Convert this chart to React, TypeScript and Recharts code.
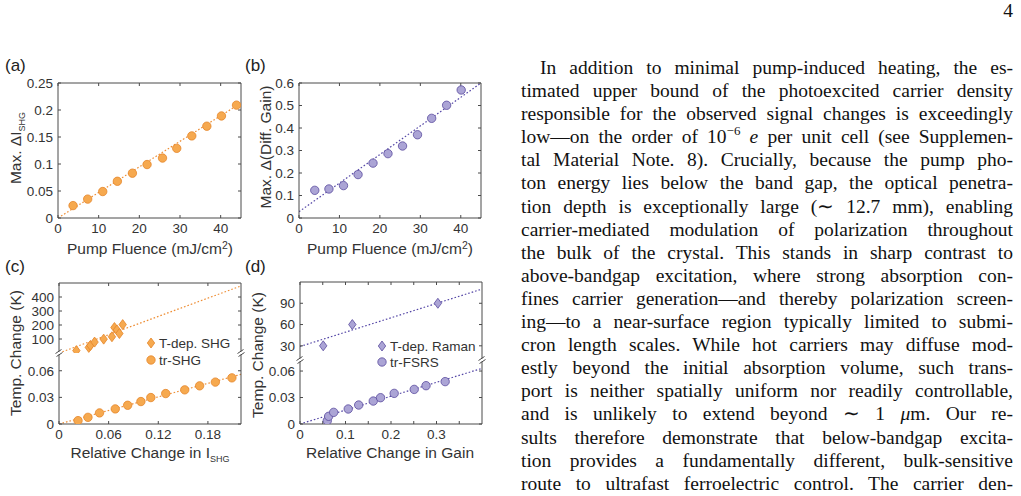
import React from "react";
import { ScatterChart, Scatter, XAxis, YAxis, ReferenceLine } from "recharts";

// (a) max. change of SHG intensity vs pump fluence
const fluenceA = [3.7, 7.3, 11.0, 14.6, 18.3, 21.9, 25.7, 29.2, 32.9, 36.6, 40.2, 43.9];
const maxDeltaShg = [0.023, 0.035, 0.049, 0.068, 0.083, 0.099, 0.111, 0.129, 0.152, 0.17, 0.189, 0.209];
const fitAx = [0, 45];
const fitAy = [0, 0.213];

// (b) max. change of differential Raman gain vs pump fluence
const fluenceB = [3.9, 7.4, 11.0, 14.6, 18.3, 22.0, 25.6, 29.3, 32.8, 36.5, 40.1];
const maxDeltaGain = [0.123, 0.129, 0.144, 0.193, 0.244, 0.286, 0.32, 0.37, 0.443, 0.501, 0.569];
const fitBx = [0, 45];
const fitBy = [0.028, 0.6];

// (c) temperature calibration, SHG
const relShgTdep = [0.021, 0.036, 0.038, 0.043, 0.054, 0.064, 0.067, 0.07, 0.073, 0.077];
const tempShgTdep = [17, 40, 54, 78, 99, 116, 182, 165, 139, 203];
const fitCupX = [0, 0.22];
const fitCupY = [0, 479];
const relShgTr = [0.023, 0.035, 0.049, 0.068, 0.083, 0.099, 0.111, 0.129, 0.152, 0.17, 0.189, 0.209];
const tempShgTr = [0.0038, 0.0075, 0.0125, 0.017, 0.0211, 0.0253, 0.0298, 0.0343, 0.0385, 0.043, 0.0472, 0.052];
const fitClowX = [0, 0.22];
const fitClowY = [0, 0.056];

// (d) temperature calibration, Raman gain
const relGainTdep = [0.051, 0.115, 0.303];
const tempGainTdep = [30, 60, 90];
const fitDupX = [0, 0.4];
const fitDupY = [29, 110];
const relGainTr = [0.06, 0.063, 0.074, 0.106, 0.129, 0.161, 0.177, 0.207, 0.251, 0.277, 0.319];
const tempGainTr = [0.0038, 0.0087, 0.0132, 0.017, 0.0215, 0.026, 0.0298, 0.0347, 0.0392, 0.0434, 0.048];
const fitDlowX = [0, 0.4];
const fitDlowY = [0, 0.063];

const ticksA = [0, 10, 20, 30, 40];
const ticksAy = [0, 0.05, 0.1, 0.15, 0.2, 0.25];
const ticksBy = [0, 0.1, 0.2, 0.3, 0.4, 0.5, 0.6];
const ticksCx = [0, 0.06, 0.12, 0.18];
const ticksCup = [100, 200, 300, 400];
const ticksLow = [0, 0.03, 0.06];
const ticksDx = [0, 0.05, 0.1, 0.15, 0.2, 0.25, 0.3, 0.35];
const ticksDup = [30, 60, 90];

const SANS = "'Liberation Sans', Arial, Helvetica, sans-serif";
const SERIF = "'Liberation Serif', 'Times New Roman', serif";
const INK = "#333";
const AXIS = "#4a4a4a";
const OR_FILL = "#f6a94f";
const OR_EDGE = "#e4852a";
const OR_LINE = "#ee8e35";
const PU_FILL = "#aba4d5";
const PU_EDGE = "#5a4b9e";
const PU_LINE = "#5446a6";

type Pt = { x: number; y: number };
const zip = (xs: number[], ys: number[]): Pt[] => xs.map((x, i) => ({ x, y: ys[i] }));

const dot = (fill: string, edge: string) => (p: any) => (
  <circle cx={p.cx} cy={p.cy} r={4.2} fill={fill} stroke={edge} strokeWidth={0.8} />
);
const diamond = (fill: string, edge: string) => (p: any) => (
  <path
    d={`M${p.cx},${p.cy - 5}L${p.cx + 3.7},${p.cy}L${p.cx},${p.cy + 5}L${p.cx - 3.7},${p.cy}Z`}
    fill={fill}
    stroke={edge}
    strokeWidth={0.8}
  />
);

type Series = { data: Pt[]; shape: (p: any) => React.ReactElement };
type Fit = { xs: number[]; ys: number[]; color: string };

type PlotProps = {
  x0: number;
  y0: number;
  w: number;
  h: number;
  xDomain: [number, number];
  xTicks: number[];
  xFmt?: (v: number) => string;
  yDomain: [number, number];
  yTicks: number[];
  top?: boolean;
  bottom?: boolean;
  series: Series[];
  fits: Fit[];
};

const tickStyle = { fill: INK, fontSize: 13.5, fontFamily: SANS };
const blank = () => "";

function Plot({ x0, y0, w, h, xDomain, xTicks, xFmt, yDomain, yTicks, top = true, bottom = true, series, fits }: PlotProps) {
  const yW = 60;
  const topPad = top ? 11 : 0;
  const W = yW + w + 4;
  const H = topPad + h + (bottom ? 26 : 0);
  return (
    <div style={{ position: "absolute", left: x0 - yW, top: y0 - topPad }}>
      <ScatterChart width={W} height={H} margin={{ top: top ? 10 : 0, right: 3, bottom: 0, left: 0 }}>
        <XAxis
          xAxisId="b"
          type="number"
          dataKey="x"
          domain={xDomain}
          ticks={xTicks}
          interval={0}
          allowDataOverflow
          hide={!bottom}
          height={26}
          stroke={AXIS}
          tickSize={-3}
          tickMargin={8}
          tick={tickStyle}
          tickFormatter={xFmt}
        />
        <XAxis
          xAxisId="t"
          orientation="top"
          type="number"
          dataKey="x"
          domain={xDomain}
          ticks={xTicks}
          interval={0}
          allowDataOverflow
          hide={!top}
          height={1}
          stroke={AXIS}
          tickSize={-3}
          tickFormatter={blank}
        />
        <YAxis
          yAxisId="l"
          type="number"
          dataKey="y"
          domain={yDomain}
          ticks={yTicks}
          interval={0}
          allowDataOverflow
          width={yW}
          stroke={AXIS}
          tickSize={-3}
          tickMargin={8}
          tick={tickStyle}
        />
        <YAxis
          yAxisId="r"
          orientation="right"
          type="number"
          dataKey="y"
          domain={yDomain}
          ticks={yTicks}
          interval={0}
          allowDataOverflow
          width={1}
          stroke={AXIS}
          tickSize={-3}
          tickFormatter={blank}
        />
        {fits.map((f, i) => (
          <ReferenceLine
            key={i}
            xAxisId="b"
            yAxisId="l"
            segment={[
              { x: f.xs[0], y: f.ys[0] },
              { x: f.xs[1], y: f.ys[1] },
            ]}
            stroke={f.color}
            strokeWidth={1.2}
            strokeDasharray="1.6 2"
            ifOverflow="hidden"
          />
        ))}
        {series.map((s, i) => (
          <Scatter key={i} xAxisId="b" yAxisId="l" data={s.data} shape={s.shape} isAnimationActive={false} />
        ))}
      </ScatterChart>
    </div>
  );
}

function BreakMark({ x, y }: { x: number; y: number }) {
  return (
    <svg style={{ position: "absolute", left: x - 6, top: y - 6 }} width={12} height={12}>
      <rect x={4} y={4.5} width={4} height={3} fill="#fff" />
      <line x1={2.5} y1={6.5} x2={8.5} y2={2.5} stroke={AXIS} strokeWidth={1} />
      <line x1={3.5} y1={9.5} x2={9.5} y2={5.5} stroke={AXIS} strokeWidth={1} />
    </svg>
  );
}

function LegendItem({ x, y, kind, fill, edge, label }: { x: number; y: number; kind: "d" | "c"; fill: string; edge: string; label: string }) {
  return (
    <div style={{ position: "absolute", left: x - 6, top: y - 8, height: 16, display: "flex", alignItems: "center" }}>
      <svg width={12} height={16}>
        {kind === "c" ? dot(fill, edge)({ cx: 6, cy: 8 }) : diamond(fill, edge)({ cx: 6, cy: 8 })}
      </svg>
      <span style={{ marginLeft: 2, fontFamily: SANS, fontSize: 13.5, color: INK, whiteSpace: "nowrap" }}>{label}</span>
    </div>
  );
}

const titleStyle: React.CSSProperties = {
  position: "absolute",
  fontFamily: SANS,
  fontSize: 15.5,
  color: INK,
  whiteSpace: "nowrap",
  lineHeight: "17px",
};

function HTitle({ cx, cy, children }: { cx: number; cy: number; children: React.ReactNode }) {
  return <div style={{ ...titleStyle, left: cx, top: cy, transform: "translate(-50%,-50%)" }}>{children}</div>;
}
function VTitle({ cx, cy, children }: { cx: number; cy: number; children: React.ReactNode }) {
  return (
    <div style={{ ...titleStyle, left: cx, top: cy, transform: "translate(-50%,-50%) rotate(-90deg)" }}>{children}</div>
  );
}
const Sub = ({ children }: { children: React.ReactNode }) => (
  <span style={{ fontSize: 9, position: "relative", top: 4, lineHeight: 0 }}>{children}</span>
);
const Sup = ({ children }: { children: React.ReactNode }) => (
  <span style={{ fontSize: 10.5, position: "relative", top: -5, lineHeight: 0 }}>{children}</span>
);

function PanelTag({ x, y, t }: { x: number; y: number; t: string }) {
  return <div style={{ position: "absolute", left: x, top: y, fontFamily: SANS, fontSize: 17, color: "#222", lineHeight: "18px" }}>{t}</div>;
}

const textLines: React.ReactNode[] = [
  "In addition to minimal pump-induced heating, the es-",
  "timated upper bound of the photoexcited carrier density",
  "responsible for the observed signal changes is exceedingly",
  <>
    low—on the order of 10
    <span style={{ fontSize: 13, position: "relative", top: -8, lineHeight: 0 }}>−6</span> <i>e</i> per unit cell (see Supplemen-
  </>,
  "tal Material Note. 8). Crucially, because the pump pho-",
  "ton energy lies below the band gap, the optical penetra-",
  "tion depth is exceptionally large (∼ 12.7 mm), enabling",
  "carrier-mediated modulation of polarization throughout",
  "the bulk of the crystal. This stands in sharp contrast to",
  "above-bandgap excitation, where strong absorption con-",
  "fines carrier generation—and thereby polarization screen-",
  "ing—to a near-surface region typically limited to submi-",
  "cron length scales. While hot carriers may diffuse mod-",
  "estly beyond the initial absorption volume, such trans-",
  "port is neither spatially uniform nor readily controllable,",
  <>
    and is unlikely to extend beyond ∼ 1 <i>μ</i>m. Our re-
  </>,
  "sults therefore demonstrate that below-bandgap excita-",
  "tion provides a fundamentally different, bulk-sensitive",
  "route to ultrafast ferroelectric control. The carrier den-",
  "sity generated by the present below-bandgap excitation",
];

const dFmt = (v: number) => (Math.round(v * 100) % 10 === 0 ? String(v) : "");

export default function App() {
  return (
    <div style={{ position: "absolute", left: 0, top: 0, width: 1021, height: 496, background: "#fff", overflow: "hidden" }}>
      <div style={{ position: "absolute", right: 8, top: 0, fontFamily: SERIF, fontSize: 19.5, color: "#111" }}>4</div>

      {/* (a) */}
      <PanelTag x={5} y={57} t="(a)" />
      <Plot
        x0={58}
        y0={83}
        w={183}
        h={135}
        xDomain={[0, 45]}
        xTicks={ticksA}
        yDomain={[0, 0.25]}
        yTicks={ticksAy}
        series={[{ data: zip(fluenceA, maxDeltaShg), shape: dot(OR_FILL, OR_EDGE) }]}
        fits={[{ xs: fitAx, ys: fitAy, color: OR_LINE }]}
      />
      <VTitle cx={15} cy={148}>
        Max. ΔI<Sub>SHG</Sub>
      </VTitle>
      <HTitle cx={150} cy={248}>
        Pump Fluence (mJ/cm<Sup>2</Sup>)
      </HTitle>

      {/* (b) */}
      <PanelTag x={245} y={57} t="(b)" />
      <Plot
        x0={299}
        y0={83}
        w={182}
        h={135}
        xDomain={[0, 45]}
        xTicks={ticksA}
        yDomain={[0, 0.6]}
        yTicks={ticksBy}
        series={[{ data: zip(fluenceB, maxDeltaGain), shape: dot(PU_FILL, PU_EDGE) }]}
        fits={[{ xs: fitBx, ys: fitBy, color: PU_LINE }]}
      />
      <VTitle cx={265} cy={147}>
        Max. Δ(Diff. Gain)
      </VTitle>
      <HTitle cx={390} cy={248}>
        Pump Fluence (mJ/cm<Sup>2</Sup>)
      </HTitle>

      {/* (c) */}
      <PanelTag x={5} y={258} t="(c)" />
      <Plot
        x0={59}
        y0={283}
        w={182}
        h={70}
        xDomain={[0, 0.22]}
        xTicks={ticksCx}
        yDomain={[0, 500]}
        yTicks={ticksCup}
        bottom={false}
        series={[{ data: zip(relShgTdep, tempShgTdep), shape: diamond(OR_FILL, OR_EDGE) }]}
        fits={[{ xs: fitCupX, ys: fitCupY, color: OR_LINE }]}
      />
      <Plot
        x0={59}
        y0={353}
        w={182}
        h={71}
        xDomain={[0, 0.22]}
        xTicks={ticksCx}
        yDomain={[0, 0.08]}
        yTicks={ticksLow}
        top={false}
        series={[{ data: zip(relShgTr, tempShgTr), shape: dot(OR_FILL, OR_EDGE) }]}
        fits={[{ xs: fitClowX, ys: fitClowY, color: OR_LINE }]}
      />
      <BreakMark x={59} y={353} />
      <BreakMark x={241} y={353} />
      <LegendItem x={151} y={343} kind="d" fill={OR_FILL} edge={OR_EDGE} label="T-dep. SHG" />
      <LegendItem x={151} y={360} kind="c" fill={OR_FILL} edge={OR_EDGE} label="tr-SHG" />
      <VTitle cx={15} cy={353}>
        Temp. Change (K)
      </VTitle>
      <HTitle cx={150} cy={452}>
        Relative Change in I<Sub>SHG</Sub>
      </HTitle>

      {/* (d) */}
      <PanelTag x={245} y={258} t="(d)" />
      <Plot
        x0={300}
        y0={282}
        w={182}
        h={78}
        xDomain={[0, 0.4]}
        xTicks={ticksDx}
        yDomain={[10, 120]}
        yTicks={ticksDup}
        bottom={false}
        series={[{ data: zip(relGainTdep, tempGainTdep), shape: diamond(PU_FILL, PU_EDGE) }]}
        fits={[{ xs: fitDupX, ys: fitDupY, color: PU_LINE }]}
      />
      <Plot
        x0={300}
        y0={360}
        w={182}
        h={64}
        xDomain={[0, 0.4]}
        xTicks={ticksDx}
        xFmt={dFmt}
        yDomain={[0, 0.0725]}
        yTicks={ticksLow}
        top={false}
        series={[{ data: zip(relGainTr, tempGainTr), shape: dot(PU_FILL, PU_EDGE) }]}
        fits={[{ xs: fitDlowX, ys: fitDlowY, color: PU_LINE }]}
      />
      <BreakMark x={300} y={360} />
      <BreakMark x={482} y={360} />
      <LegendItem x={382} y={346} kind="d" fill={PU_FILL} edge={PU_EDGE} label="T-dep. Raman" />
      <LegendItem x={382} y={362} kind="c" fill={PU_FILL} edge={PU_EDGE} label="tr-FSRS" />
      <VTitle cx={257} cy={355}>
        Temp. Change (K)
      </VTitle>
      <HTitle cx={390} cy={452}>
        Relative Change in Gain
      </HTitle>

      {/* body text */}
      <div style={{ position: "absolute", left: 521, top: 56, width: 492, fontFamily: SERIF, fontSize: 19.5, lineHeight: "23.1px", color: "#111" }}>
        {textLines.map((l, i) => (
          <div key={i} style={{ textAlign: "justify", textAlignLast: "justify", paddingLeft: i === 0 ? 19 : 0, height: 23.1 }}>
            {l}
          </div>
        ))}
      </div>
    </div>
  );
}
